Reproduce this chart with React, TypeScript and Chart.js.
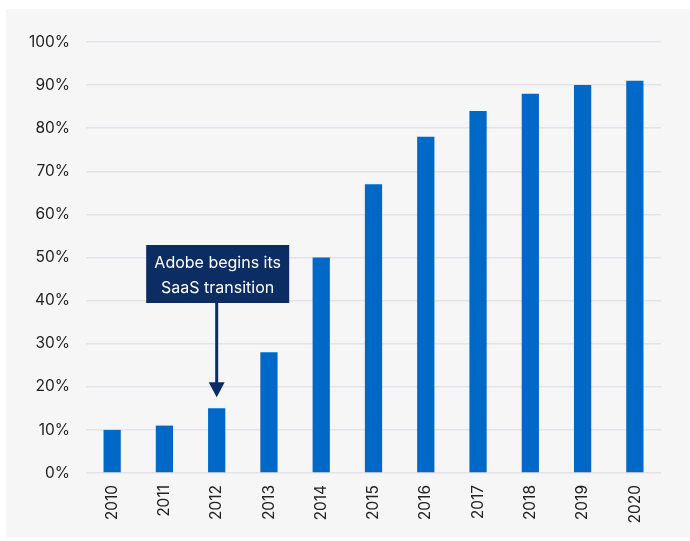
import React, { useEffect, useRef } from "react";
import { Chart, registerables } from "chart.js";

Chart.register(...registerables);

const years = ["2010", "2011", "2012", "2013", "2014", "2015", "2016", "2017", "2018", "2019", "2020"];
const shares = [10, 11, 15, 28, 50, 67, 78, 84, 88, 90, 91];
const annotationLines = ["Adobe begins its", "SaaS transition"];
const annotationYear = "2012";

const FONT = "Inter, 'Noto Sans', sans-serif";

const bgPlugin = {
  id: "bgPlugin",
  beforeDraw(chart: any) {
    const ctx = chart.ctx;
    ctx.save();
    ctx.fillStyle = "#f6f6f6";
    ctx.fillRect(6, 9, chart.width - 6, chart.height - 13);
    ctx.restore();
  },
};

const annotationPlugin = {
  id: "annotationPlugin",
  afterDatasetsDraw(chart: any) {
    const ctx = chart.ctx;
    const xs = chart.scales.x;
    const ys = chart.scales.y;
    const idx = years.indexOf(annotationYear);
    const cx = xs.getPixelForValue(idx);
    const boxTop = ys.getPixelForValue(52.9);
    const boxH = 58;
    const boxW = 143;
    const left = cx - boxW / 2 + 1;
    ctx.save();
    ctx.fillStyle = "#0b2d63";
    ctx.fillRect(left, boxTop, boxW, boxH);
    ctx.fillStyle = "#ffffff";
    ctx.font = `16px ${FONT}`;
    ctx.textAlign = "center";
    ctx.textBaseline = "middle";
    ctx.fillText(annotationLines[0], left + boxW / 2, boxTop + 18);
    ctx.fillText(annotationLines[1], left + boxW / 2, boxTop + 43);
    // arrow
    const tipY = ys.getPixelForValue(shares[idx]) - 11;
    const ax = cx;
    ctx.strokeStyle = "#0b2d63";
    ctx.fillStyle = "#0b2d63";
    ctx.lineWidth = 3;
    ctx.beginPath();
    ctx.moveTo(ax, boxTop + boxH);
    ctx.lineTo(ax, tipY - 12);
    ctx.stroke();
    ctx.beginPath();
    ctx.moveTo(ax - 8, tipY - 15);
    ctx.lineTo(ax + 8, tipY - 15);
    ctx.lineTo(ax, tipY);
    ctx.closePath();
    ctx.fill();
    ctx.restore();
  },
};

export default function App() {
  const ref = useRef<HTMLCanvasElement>(null);
  useEffect(() => {
    if (!ref.current) return;
    const chart = new Chart(ref.current, {
      type: "bar",
      data: {
        labels: years,
        datasets: [
          {
            data: shares,
            backgroundColor: "#0069c7",
            borderWidth: 0,
            categoryPercentage: 1,
            barPercentage: 0.33,
          },
        ],
      },
      options: {
        responsive: false,
        animation: false,
        layout: { padding: { left: 0, right: 29, top: 42, bottom: 0 } },
        plugins: { legend: { display: false }, tooltip: { enabled: false } },
        scales: {
          x: {
            grid: { display: false, drawTicks: false },
            border: { display: false },
            ticks: {
              minRotation: 90,
              maxRotation: 90,
              padding: 12,
              color: "#222",
              font: { family: FONT, size: 15.5 },
            },
            afterFit(scale: any) {
              scale.height = 68;
            },
          },
          y: {
            min: 0,
            max: 100,
            grid: { color: "#e2e3e8", lineWidth: 1.5, drawTicks: false },
            border: { display: false },
            ticks: {
              stepSize: 10,
              padding: 16,
              color: "#222",
              font: { family: FONT, size: 15.5 },
              callback: (v: any) => `${v}%`,
            },
            afterFit(scale: any) {
              scale.width = 86;
            },
          },
        },
      },
      plugins: [bgPlugin, annotationPlugin],
    });
    return () => chart.destroy();
  }, []);
  return (
    <div style={{ position: "absolute", left: 0, top: 0, width: 690, height: 541 }}>
      <canvas ref={ref} width={690} height={541} />
    </div>
  );
}
